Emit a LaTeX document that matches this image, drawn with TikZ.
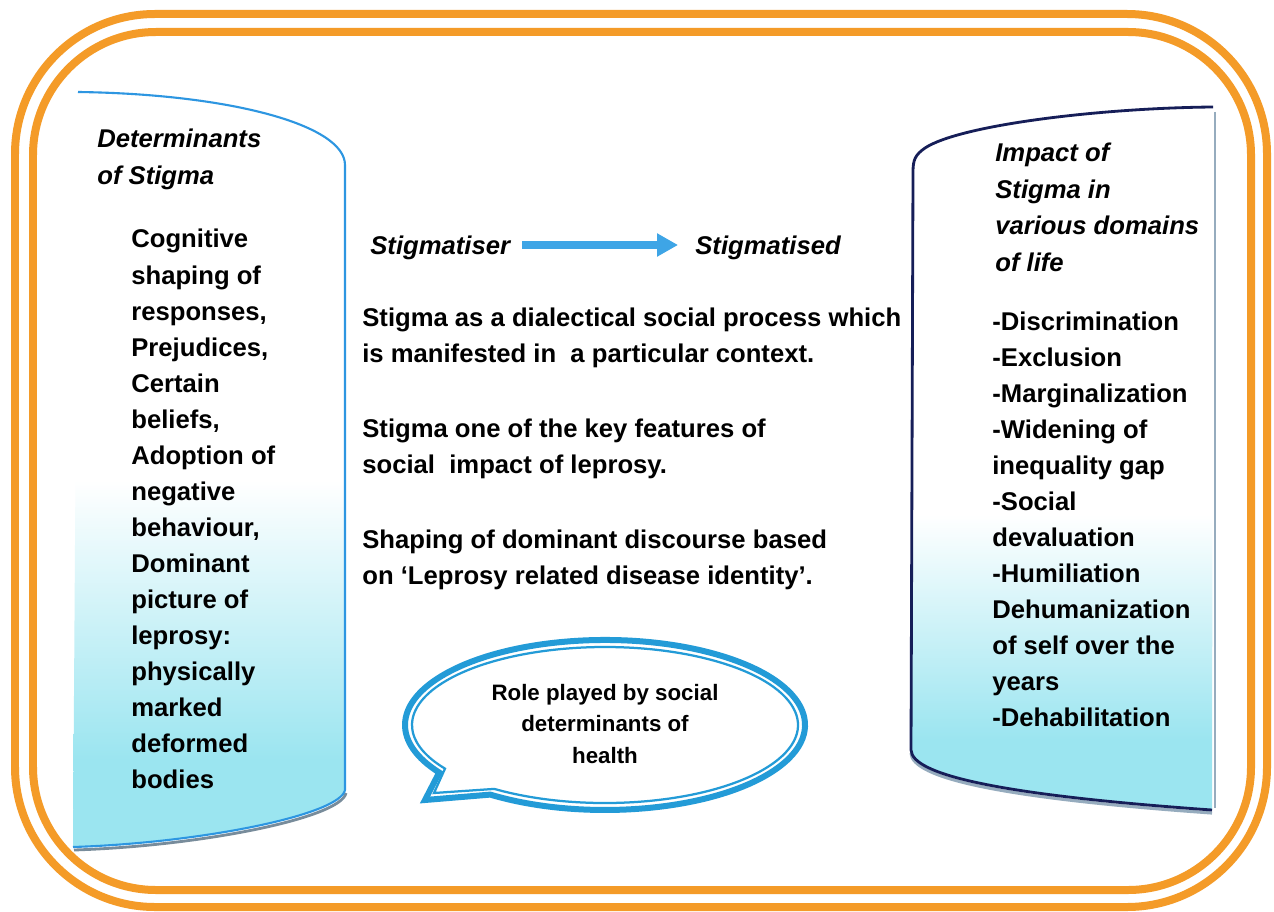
\documentclass[tikz,border=0pt]{standalone}
\usepackage{fontspec}
\setmainfont{Liberation Sans}
\usetikzlibrary{arrows.meta}

\definecolor{frameorange}{RGB}{244,155,40}
\definecolor{cylcyan}{RGB}{155,229,240}
\definecolor{leftblue}{RGB}{45,150,225}
\definecolor{rightnavy}{RGB}{22,30,88}
\definecolor{arrowblue}{RGB}{62,165,230}
\definecolor{bubbleblue}{RGB}{35,155,215}
\definecolor{edgegrey}{RGB}{150,172,190}
\definecolor{shadowgrey}{RGB}{120,140,155}

% white top fading into cyan towards the bottom of each column
\pgfdeclareverticalshading{leftfade}{100bp}{color(0bp)=(cylcyan); color(30.8bp)=(cylcyan); color(49.3bp)=(white); color(100bp)=(white)}
\pgfdeclareverticalshading{rightfade}{100bp}{color(0bp)=(cylcyan); color(30bp)=(cylcyan); color(46bp)=(white); color(100bp)=(white)}

% stacked lines whose first baseline is the node's base
\newcommand\leftstack[1]{\begin{tabular}[t]{@{}l@{}}#1\end{tabular}}
\newcommand\centrestack[1]{\begin{tabular}[t]{@{}c@{}}#1\end{tabular}}

\begin{document}
\begin{tikzpicture}[x=0.02cm,y=-0.02cm,
  frameline/.style={draw=frameorange,line width=0.16cm},
  bodytext/.style={anchor=base west,inner sep=0pt,font=\fontsize{14.6}{20.5}\selectfont\bfseries},
  headtext/.style={bodytext,font=\fontsize{14.6}{20.7}\selectfont\bfseries\itshape},
  bubbletext/.style={anchor=base,inner sep=0pt,font=\fontsize{12.7}{18.1}\selectfont\bfseries},
  flowarrow/.style={draw=arrowblue,line width=0.16cm,-{Triangle[length=0.42cm,width=0.44cm]}},
  bubbleline/.style={draw=bubbleblue,line join=miter}]

\useasboundingbox (0,0) rectangle (1274,912);
\fill[white] (0,0) rectangle (1274,912);

% double orange frame
\draw[frameline,rounded corners=2.8cm] (15,14) rectangle (1267,907);
\draw[frameline,rounded corners=2.46cm] (33,32) rectangle (1251,890);

% left column: determinants
\path[shading=leftfade] (78,92) .. controls (230,94) and (345,125) .. (345,165)
  -- (345,790) .. controls (340,815) and (200,843) .. (73,847) -- cycle;
\draw[shadowgrey,line width=1.6pt,shift={(1,3)}] (345,790) .. controls (340,815) and (200,843) .. (73,847);
\draw[leftblue,line width=1.2pt] (78,92) .. controls (230,94) and (345,125) .. (345,165)
  -- (345,790) .. controls (340,815) and (200,843) .. (73,847);

% right column: impact
\path[shading=rightfade] (1213,107) .. controls (1100,108) and (960,125) .. (925,148)
  .. controls (915,155) and (913,160) .. (913,172) -- (911,750)
  .. controls (912,775) and (1000,795) .. (1212,810) -- cycle;
\draw[edgegrey,line width=0.9pt] (1215,112) -- (1215,808);
\draw[edgegrey,line width=1.8pt,shift={(0,3)}] (911,750) .. controls (912,775) and (1000,795) .. (1212,810);
\draw[rightnavy,line width=1.6pt] (1213,107) .. controls (1100,108) and (960,125) .. (925,148)
  .. controls (915,155) and (913,160) .. (913,172) -- (911,750)
  .. controls (912,775) and (1000,795) .. (1212,810);

% left column text
\node[headtext] (dethead) at (97,148) {\leftstack{Determinants\\of Stigma}};
\node[bodytext] (detlist) at (131,248) {\leftstack{Cognitive\\shaping of\\responses,\\Prejudices,\\Certain\\beliefs,\\Adoption of\\negative\\behaviour,\\Dominant\\picture of\\leprosy:\\physically\\marked\\deformed\\bodies}};

% right column text
\node[headtext] (imphead) at (995,162) {\leftstack{Impact of\\Stigma in\\various domains\\of life}};
\node[bodytext] (implist) at (992,330) {\leftstack{-Discrimination\\-Exclusion\\-Marginalization\\-Widening of\\inequality gap\\-Social\\devaluation\\-Humiliation\\Dehumanization\\of self over the\\years\\-Dehabilitation}};

% stigmatiser to stigmatised
\node[headtext] (stiger) at (370,255) {Stigmatiser};
\node[headtext] (stiged) at (695,255) {Stigmatised};
\draw[flowarrow] ([shift={(12,-10)}]stiger.base east) -- ([shift={(-17,-10)}]stiged.base west);

% central statements
\node[bodytext] (dialectic) at (362,326) {\leftstack{Stigma as a dialectical social process which\\is manifested in\ \ a particular context.}};
\node[bodytext] (feature) at (362,437) {\leftstack{Stigma one of the key features of\\social\ \ impact of leprosy.}};
\node[bodytext] (discourse) at (362,548) {\leftstack{Shaping of dominant discourse based\\on ‘Leprosy related disease identity’.}};

% speech bubble
\draw[bubbleline,line width=0.12cm] (490.3,794.6) arc[start angle=125,end angle=-214,x radius=200,y radius=85] -- (425,800) -- cycle;
\draw[bubbleline,line width=0.045cm] (494.3,788.9) arc[start angle=125,end angle=-214,x radius=193,y radius=78] -- (434,793) -- cycle;
\node[bubbletext] (role) at (605,700) {\centrestack{Role played by social\\determinants of\\health}};

\end{tikzpicture}
\end{document}
